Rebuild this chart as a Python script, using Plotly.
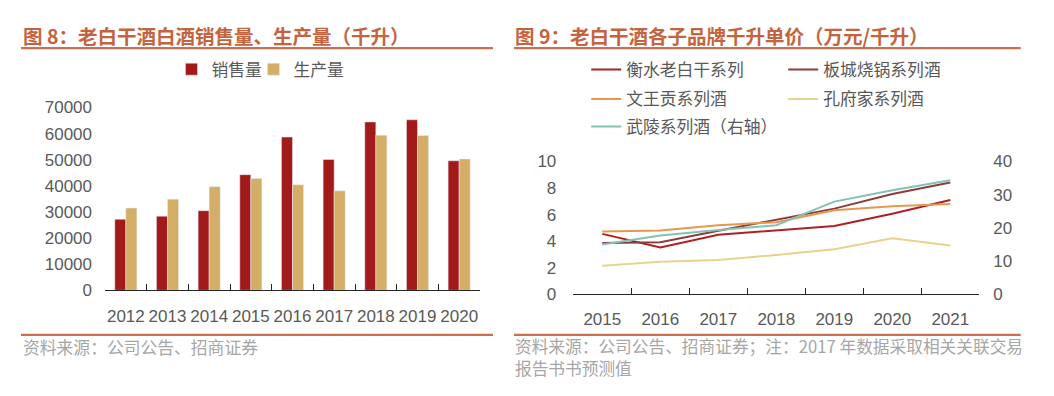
import plotly.graph_objects as go

# ---------------- data ----------------
years_a = ["2012", "2013", "2014", "2015", "2016", "2017", "2018", "2019", "2020"]
sales = [27200, 28400, 30500, 44300, 58700, 50100, 64500, 65300, 49600]
production = [31500, 34900, 39700, 42800, 40400, 38100, 59400, 59300, 50300]

years_b = ["2015", "2016", "2017", "2018", "2019", "2020", "2021"]
hengshui = [4.55, 3.52, 4.48, 4.83, 5.15, 6.06, 7.10]
bancheng = [3.86, 3.92, 4.78, 5.62, 6.45, 7.55, 8.42]
wenwanggong = [4.72, 4.80, 5.20, 5.43, 6.33, 6.62, 6.80]
kongfujia = [2.15, 2.46, 2.58, 2.96, 3.40, 4.22, 3.68]
wuling = [15.0, 17.7, 19.4, 20.8, 27.9, 31.3, 34.3]

# ---------------- helpers ----------------
# the page body keeps its 8px margin, so the figure is sized to fit the window
OFF = 8
W, H = 1054 - 2 * OFF, 396 - 2 * OFF
def px(x):
    return (x - OFF) / W
def py(y):
    return 1 - (y - OFF) / H

NUM_FONT = "Liberation Sans, Arial, Noto Sans CJK SC"
CJK_FONT = "Noto Sans CJK SC"
TICK_COLOR = "#595959"
TITLE_COLOR = "#C4643E"
RULE_COLOR = "#C8704F"
SRC_COLOR = "#A6A6A6"
AXIS_COLOR = "#262626"
LEG_OFF = 40.5   # distance from legend x to start of item text
LEG_DY = -5

fig = go.Figure()

fig.add_trace(go.Bar(x=years_a, y=sales, name="销售量", marker_color="#A31A1A",
                     xaxis="x", yaxis="y", legend="legend"))
fig.add_trace(go.Bar(x=years_a, y=production, name="生产量", marker_color="#D4AE66",
                     xaxis="x", yaxis="y", legend="legend5"))

line_w = 2
fig.add_trace(go.Scatter(x=years_b, y=hengshui, name="衡水老白干系列", mode="lines",
                         line=dict(color="#B01F24", width=line_w),
                         xaxis="x2", yaxis="y2", legend="legend2"))
fig.add_trace(go.Scatter(x=years_b, y=bancheng, name="板城烧锅系列酒", mode="lines",
                         line=dict(color="#8E3B3D", width=line_w),
                         xaxis="x2", yaxis="y2", legend="legend2"))
fig.add_trace(go.Scatter(x=years_b, y=wenwanggong, name="文王贡系列酒", mode="lines",
                         line=dict(color="#E4994E", width=line_w),
                         xaxis="x2", yaxis="y2", legend="legend3"))
fig.add_trace(go.Scatter(x=years_b, y=kongfujia, name="孔府家系列酒", mode="lines",
                         line=dict(color="#E5D38E", width=line_w),
                         xaxis="x2", yaxis="y2", legend="legend3"))
fig.add_trace(go.Scatter(x=years_b, y=wuling, name="武陵系列酒（右轴）", mode="lines",
                         line=dict(color="#84C2B2", width=line_w),
                         xaxis="x2", yaxis="y3", legend="legend4"))

xcommon = dict(type="category", showline=True, linecolor=AXIS_COLOR, linewidth=1.3,
               ticks="inside", tickson="boundaries", ticklen=6, tickcolor=AXIS_COLOR,
               tickwidth=1.2, showgrid=False, zeroline=False, tickangle=0,
               tickfont=dict(family=NUM_FONT, size=17, color=TICK_COLOR),
               fixedrange=True)
ycommon = dict(showgrid=False, zeroline=False, showline=False, ticks="",
               tickfont=dict(family=NUM_FONT, size=17, color=TICK_COLOR),
               fixedrange=True)

legend_common = dict(orientation="h", xanchor="left", yanchor="middle",
                     bgcolor="rgba(0,0,0,0)", borderwidth=0,
                     font=dict(family=CJK_FONT, size=16.8, color=TICK_COLOR),
                     tracegroupgap=0, itemclick=False, itemdoubleclick=False)

fig.update_layout(
    width=W, height=H,
    margin=dict(l=0, r=0, t=0, b=0),
    paper_bgcolor="white", plot_bgcolor="white",
    barmode="group", bargap=0.47, bargroupgap=0.0,
    xaxis=dict(domain=[px(105), px(480)], anchor="y", range=[-0.5, len(years_a) - 0.5],
               ticklabelstandoff=10, **xcommon),
    yaxis=dict(domain=[py(295.7), py(103.3)], anchor="x", range=[0, 70000],
               dtick=10000, tickformat="d", ticklabelstandoff=12, **ycommon),
    xaxis2=dict(domain=[px(573.3), px(979.3)], anchor="y2", range=[-0.5, len(years_b) - 0.5],
                ticklabelstandoff=9, **xcommon),
    yaxis2=dict(domain=[py(300), py(160)], anchor="x2", range=[0, 10], dtick=2,
                ticklabelstandoff=16, **ycommon),
    yaxis3=dict(overlaying="y2", anchor="x2", side="right", range=[0, 40], dtick=10,
                ticklabelstandoff=13, **ycommon),
    showlegend=True,
    legend=dict(x=px(212 - LEG_OFF), y=py(68 + LEG_DY), **legend_common),
    legend5=dict(x=px(294 - LEG_OFF), y=py(68 + LEG_DY), **legend_common),
    legend2=dict(x=px(626.7 - LEG_OFF), y=py(68.3 + LEG_DY), entrywidth=152, **legend_common),
    legend3=dict(x=px(626.7 - LEG_OFF), y=py(99.3 + LEG_DY), entrywidth=152, **legend_common),
    legend4=dict(x=px(626.7 - LEG_OFF), y=py(128.3 + LEG_DY), entrywidth=152, **legend_common),
)

fig.add_annotation(text="<b>图 8：老白干酒白酒销售量、生产量（千升）</b>", x=px(21), y=py(27.5),
                   xref="paper", yref="paper", xanchor="left", yanchor="middle",
                   showarrow=False, font=dict(family=CJK_FONT, size=19.5, color=TITLE_COLOR))
fig.add_annotation(text="<b>图 9：老白干酒各子品牌千升单价（万元/千升）</b>", x=px(513), y=py(27.5),
                   xref="paper", yref="paper", xanchor="left", yanchor="middle",
                   showarrow=False, font=dict(family=CJK_FONT, size=19.5, color=TITLE_COLOR))

fig.add_annotation(text="资料来源：公司公告、招商证券", x=px(21), y=py(355),
                   xref="paper", yref="paper", xanchor="left", yanchor="middle",
                   showarrow=False, font=dict(family=CJK_FONT, size=16.8, color=SRC_COLOR))
fig.add_annotation(text="资料来源：公司公告、招商证券；注：2017 年数据采取相关关联交易", x=px(513), y=py(354.5),
                   xref="paper", yref="paper", xanchor="left", yanchor="middle",
                   showarrow=False, font=dict(family=CJK_FONT, size=16.7, color=SRC_COLOR))
fig.add_annotation(text="报告书书预测值", x=px(513), y=py(377.5),
                   xref="paper", yref="paper", xanchor="left", yanchor="middle",
                   showarrow=False, font=dict(family=CJK_FONT, size=16.7, color=SRC_COLOR))

for (x0, x1) in [(21, 493), (514, 1020.7)]:
    for yy in (40.7, 342.7):
        fig.add_shape(type="line", xref="paper", yref="paper",
                      x0=px(x0), x1=px(x1), y0=py(yy), y1=py(yy),
                      line=dict(color=RULE_COLOR, width=2.2))

fig.write_html("out.html", config={"displayModeBar": False})
